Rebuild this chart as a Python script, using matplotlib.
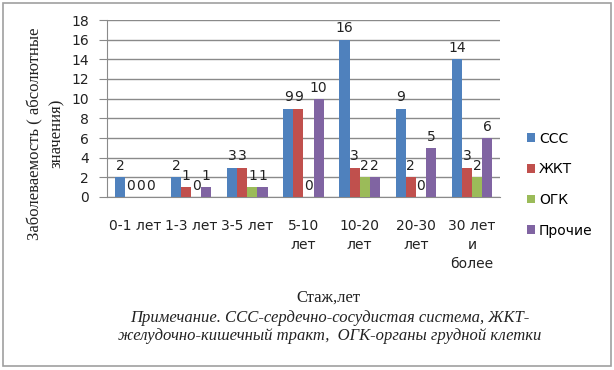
import numpy as np
import matplotlib.pyplot as plt
from matplotlib.patches import Rectangle

# Categories (work experience) and series values
categories = ["0-1 лет", "1-3 лет", "3-5 лет", "5-10\nлет", "10-20\nлет", "20-30\nлет", "30 лет\nи\nболее"]
series_names = ["ССС", "ЖКТ", "ОГК", "Прочие"]
sss = [2, 2, 3, 9, 16, 9, 14]
zhkt = [0, 1, 3, 9, 3, 2, 3]
ogk = [0, 0, 1, 0, 2, 0, 2]
other = [0, 1, 1, 10, 2, 5, 6]
colors = ["#4F81BD", "#C0504D", "#9BBB59", "#8064A2"]

W, H = 614, 370
fig = plt.figure(figsize=(W / 100, H / 100), dpi=100)
ax = fig.add_axes([107 / W, (H - 197) / H, (500 - 107) / W, (197 - 20) / H])

x = np.arange(len(categories))
width = 0.18
offsets = [-0.27, -0.09, 0.09, 0.27]
for vals, name, col, off in zip([sss, zhkt, ogk, other], series_names, colors, offsets):
    bars = ax.bar(x + off, vals, width, color=col, label=name, zorder=3)
    ax.bar_label(bars, labels=[str(v) for v in vals], padding=3, fontsize=10, color="#222222")

ax.set_xlim(-0.5, len(categories) - 0.5)
ax.set_ylim(0, 18)
ax.set_yticks(range(0, 19, 2))
ax.yaxis.grid(True, color="#8a8a8a", linewidth=1, zorder=0)
ax.set_axisbelow(True)
for s in ["top", "right"]:
    ax.spines[s].set_visible(False)
ax.spines["left"].set_color("#8a8a8a")
ax.spines["bottom"].set_color("#8a8a8a")
ax.tick_params(axis="y", length=6, color="#8a8a8a", labelsize=10, pad=7, labelcolor="#222222")
ax.tick_params(axis="x", length=0, labelsize=10, pad=16, labelcolor="#222222")
ax.set_xticks(x)
ax.set_xticklabels(categories, linespacing=1.45, va="top")

ax.set_ylabel("Заболеваемость ( абсолютные\nзначения)", family="Liberation Serif",
              fontsize=12, linespacing=1.5, color="#222222")
ax.yaxis.set_label_coords(-42 / (500 - 107), 0.36)

leg = fig.legend(loc="upper left", bbox_to_anchor=(514 / W, 1 - 119 / H), frameon=False,
                 fontsize=10, handlelength=0.6, handleheight=0.6, handletextpad=0.3,
                 labelspacing=1.2)

fig.text(328 / W, 1 - 298 / H, "Стаж,лет", family="Liberation Serif", fontsize=12,
         ha="center", va="center", color="#222222")
fig.text(330 / W, 1 - 327 / H,
         "Примечание. ССС-сердечно-сосудистая система, ЖКТ-\nжелудочно-кишечный тракт,  ОГК-органы грудной клетки",
         family="Liberation Serif", style="italic", fontsize=12, ha="center", va="center",
         linespacing=1.2, color="#222222")

fig.patches.append(Rectangle((3 / W, 4 / H), 608 / W, 363 / H, transform=fig.transFigure,
                             fill=False, edgecolor="#a0a0a0", linewidth=1.2))

fig.savefig("out.png", dpi=100)
